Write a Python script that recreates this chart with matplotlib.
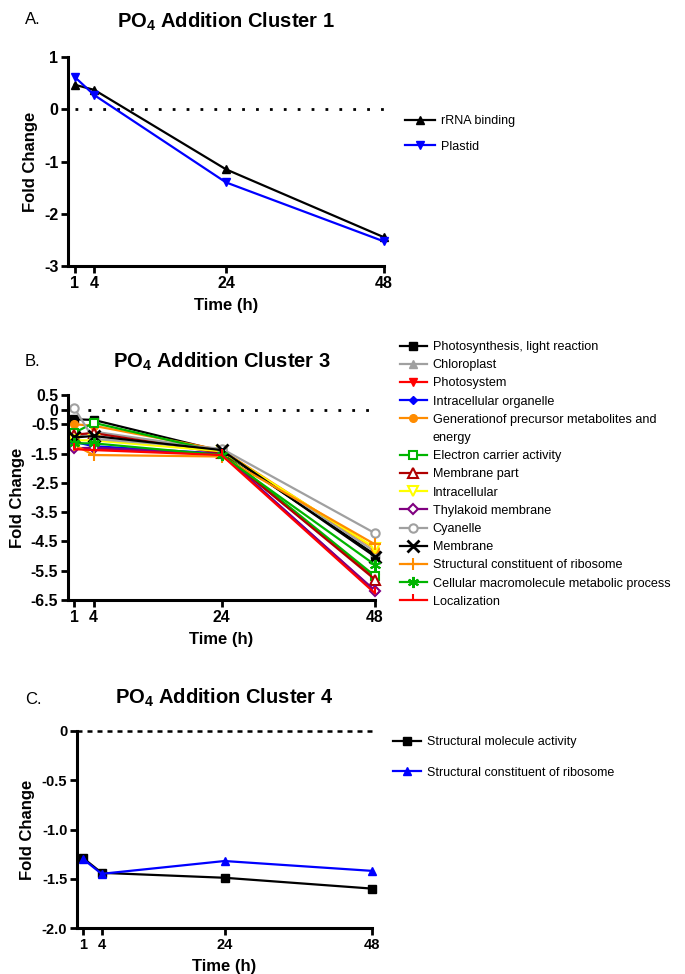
import matplotlib
matplotlib.use("Agg")
import matplotlib.pyplot as plt
from matplotlib.lines import Line2D

plt.rcParams['font.family'] = ['Liberation Sans', 'DejaVu Sans']
plt.rcParams['mathtext.fontset'] = 'custom'
plt.rcParams['mathtext.rm'] = 'Liberation Sans'
plt.rcParams['mathtext.bf'] = 'Liberation Sans:bold'

# ---------------- data ----------------
times = [1, 4, 24, 48]
time_ticks = [1, 4, 24, 48]

# Panel A
a_labels = ["rRNA binding", "Plastid"]
a_rrna = [0.47, 0.37, -1.15, -2.45]
a_plastid = [0.62, 0.27, -1.40, -2.53]
a_yticks = [1, 0, -1, -2, -3]

# Panel B
b_labels = [
    "Photosynthesis, light reaction",
    "Chloroplast",
    "Photosystem",
    "Intracellular organelle",
    "Generationof precursor metabolites and",
    "Electron carrier activity",
    "Membrane part",
    "Intracellular",
    "Thylakoid membrane",
    "Cyanelle",
    "Membrane",
    "Structural constituent of ribosome",
    "Cellular macromolecule metabolic process",
    "Localization",
]
b_label_cont = "energy"   # second line of the 5th legend label
b_photosynthesis = [-0.33, -0.35, -1.42, -4.95]
b_chloroplast = [-0.95, -0.75, -1.38, -4.85]
b_photosystem = [-1.30, -1.35, -1.50, -5.75]
b_organelle = [-1.10, -1.25, -1.50, -6.20]
b_generation = [-0.50, -0.55, -1.38, -4.75]
b_electron = [-0.79, -0.45, -1.45, -5.68]
b_membrane_part = [-0.85, -0.80, -1.48, -5.80]
b_intracellular = [-1.05, -1.05, -1.42, -4.72]
b_thylakoid = [-1.32, -1.30, -1.52, -6.18]
b_cyanelle = [0.05, -1.00, -1.33, -4.22]
b_membrane = [-0.95, -0.90, -1.38, -5.02]
b_structural = [-1.20, -1.55, -1.60, -4.60]
b_cellular = [-1.15, -1.15, -1.55, -5.30]
b_localization = [-1.35, -1.38, -1.55, -6.27]
b_series = [b_photosynthesis, b_chloroplast, b_photosystem, b_organelle,
            b_generation, b_electron, b_membrane_part, b_intracellular,
            b_thylakoid, b_cyanelle, b_membrane, b_structural, b_cellular,
            b_localization]
b_yticks = [0.5, 0, -0.5, -1.5, -2.5, -3.5, -4.5, -5.5, -6.5]

# Panel C
c_labels = ["Structural molecule activity", "Structural constituent of ribosome"]
c_molecule = [-1.29, -1.44, -1.49, -1.60]
c_ribosome = [-1.30, -1.45, -1.32, -1.42]
c_yticks = [0, -0.5, -1.0, -1.5, -2.0]
c_yticklabels = ["0", "-0.5", "-1.0", "-1.5", "-2.0"]

# ---------------- styles ----------------
b_styles = [
    dict(color="black", marker="s", mfc="black", ms=5.5),
    dict(color="#a0a0a0", marker="^", mfc="#a0a0a0", ms=5.5),
    dict(color="#ff0000", marker="v", mfc="#ff0000", ms=5.5),
    dict(color="#0000ff", marker="D", mfc="#0000ff", ms=4),
    dict(color="#ff8c00", marker="o", mfc="#ff8c00", ms=5.5),
    dict(color="#00b400", marker="s", mfc="white", ms=6, mew=1.5),
    dict(color="#b00000", marker="^", mfc="white", ms=6.5, mew=1.5),
    dict(color="#ffff00", marker="v", mfc="white", ms=6.5, mew=1.5),
    dict(color="#800080", marker="D", mfc="white", ms=5, mew=1.5),
    dict(color="#a0a0a0", marker="o", mfc="white", ms=6, mew=1.5),
    dict(color="black", marker="x", ms=8, mew=2),
    dict(color="#ff8c00", marker="+", ms=9, mew=1.5),
    dict(color="#00b400", marker=(6, 2, 0), ms=8, mew=1.5),
    dict(color="#ff0000", marker=2, ms=4, mew=1.5),
]

fig = plt.figure(figsize=(6.85, 9.74), dpi=100)


def style_axes(ax, yticks, ylim, fs, yticklabels=None):
    ax.set_xlim(0, 48)
    ax.set_ylim(*ylim)
    ax.set_xticks(time_ticks)
    ax.set_yticks(yticks)
    if yticklabels is None:
        yticklabels = [("%g" % v) if v != 0 else "0" for v in yticks]
    ax.set_yticklabels(yticklabels)
    for s in ("top", "right"):
        ax.spines[s].set_visible(False)
    for s in ("left", "bottom"):
        ax.spines[s].set_linewidth(2.2)
    ax.tick_params(direction="out", length=5, width=2, labelsize=fs, pad=2)
    for lab in ax.get_xticklabels() + ax.get_yticklabels():
        lab.set_fontweight("bold")
    ax.set_xlabel("Time (h)", fontsize=12, fontweight="bold", labelpad=5)
    ax.set_ylabel("Fold Change", fontsize=12, fontweight="bold")


# ---- Panel A ----
axA = fig.add_axes([68 / 685, 1 - 266 / 974, 316 / 685, 209 / 974])
axA.hlines(0, times[0], times[-1], colors="black", linestyles=(0, (1, 4)), lw=2)
axA.plot(times, a_rrna, color="black", marker="^", ms=6, lw=1.6, clip_on=False, label=a_labels[0])
axA.plot(times, a_plastid, color="#0000ff", marker="v", ms=6, lw=1.6, clip_on=False, label=a_labels[1])
style_axes(axA, a_yticks, (-3, 1), 11.5)
axA.yaxis.set_label_coords(-0.095, 0.5)
axA.legend(loc="upper left", bbox_to_anchor=(405 / 685, 1 - 115 / 974),
           bbox_transform=fig.transFigure, frameon=False, fontsize=9,
           borderpad=0, borderaxespad=0, handlelength=2.4, handletextpad=0.5,
           labelspacing=1.1)
fig.text(25 / 685, 1 - 20 / 974, "A.", fontsize=12, va="center", ha="left")
fig.text(226 / 685, 1 - 22 / 974, r"PO$_\mathbf{4}$ Addition Cluster 1", fontsize=14.5,
         fontweight="bold", ha="center", va="center")

# ---- Panel B ----
axB = fig.add_axes([68 / 685, 1 - 600 / 974, 307 / 685, 205 / 974])
axB.hlines(0, times[0], times[-1], colors="black", linestyles=(0, (1, 4)), lw=2)
handles, labels = [], []
for lab, vals, st in zip(b_labels, b_series, b_styles):
    ln, = axB.plot(times, vals, lw=1.6, clip_on=False, label=lab, **st)
    handles.append(ln)
    labels.append(lab)
    if lab.endswith(" and"):
        handles.append(Line2D([], [], color="none", marker="none"))
        labels.append(b_label_cont)
style_axes(axB, b_yticks, (-6.5, 0.5), 11.3)
axB.yaxis.set_label_coords(-0.14, 0.5)
axB.legend(handles, labels, loc="upper left", bbox_to_anchor=(400 / 685, 1 - 341 / 974),
           bbox_transform=fig.transFigure, frameon=False, fontsize=9.1,
           borderpad=0, borderaxespad=0, handlelength=2.1, handletextpad=0.5,
           labelspacing=0.49)
fig.text(25 / 685, 1 - 362 / 974, "B.", fontsize=12, va="center", ha="left")
fig.text(222 / 685, 1 - 362 / 974, r"PO$_\mathbf{4}$ Addition Cluster 3", fontsize=14.5,
         fontweight="bold", ha="center", va="center")

# ---- Panel C ----
axC = fig.add_axes([77 / 685, 1 - 928 / 974, 295 / 685, 197 / 974])
axC.hlines(0, 0, times[-1], colors="black", linestyles=(0, (2, 2)), lw=1.8, clip_on=False, zorder=5)
axC.plot(times, c_molecule, color="black", marker="s", ms=6, lw=1.6, clip_on=False, label=c_labels[0])
axC.plot(times, c_ribosome, color="#0000ff", marker="^", ms=6, lw=1.6, clip_on=False, label=c_labels[1])
style_axes(axC, c_yticks, (-2, 0), 10.5, c_yticklabels)
axC.yaxis.set_label_coords(-0.142, 0.5)
axC.legend(loc="upper left", bbox_to_anchor=(393 / 685, 1 - 736 / 974),
           bbox_transform=fig.transFigure, frameon=False, fontsize=9,
           borderpad=0, borderaxespad=0, handlelength=2.2, handletextpad=0.5,
           labelspacing=1.5)
fig.text(25 / 685, 1 - 700 / 974, "C.", fontsize=12, va="center", ha="left")
fig.text(224 / 685, 1 - 698 / 974, r"PO$_\mathbf{4}$ Addition Cluster 4", fontsize=14.5,
         fontweight="bold", ha="center", va="center")

fig.savefig("out.png", dpi=100, facecolor="white")
